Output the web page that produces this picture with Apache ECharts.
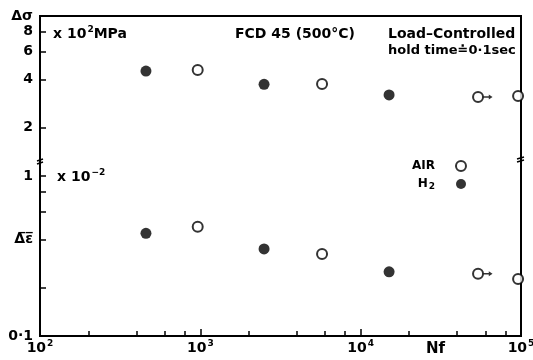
<!DOCTYPE html>
<html>
<head>
<meta charset="utf-8">
<script src="https://cdn.jsdelivr.net/npm/echarts@6/dist/echarts.min.js"></script>
<style>html,body{margin:0;padding:0;background:#fff}#main{width:533px;height:360px}</style>
</head>
<body>
<div id="main"></div>
<script>
var chart = echarts.init(document.getElementById('main'));

// AIR (open circles) - cycles to failure, stress (x10^2 MPa), strain (x10^-2)
var airN = [963, 5743, 53960, 95900];
var airStress = [4.60, 3.76, 3.12, 3.16];
var airStrain = [0.482, 0.326, 0.245, 0.227];
var airRunout = [false, false, true, false];
// H2 (filled circles)
var h2N = [458, 2497, 15040];
var h2Stress = [4.53, 3.74, 3.21];
var h2Strain = [0.438, 0.350, 0.252];

var xMajorTicks = [100, 1000, 10000, 100000];
var xMajorExp = ['2', '3', '4', '5'];
var xMinorTicks = [200, 400, 600, 800, 2000, 4000, 6000, 8000, 20000, 40000, 60000, 80000];
var yTicks = [0.2, 0.4, 0.6, 0.8, 1, 2, 4, 6, 8];
var yLabelValues = [0.1, 0.4, 1, 2, 4, 6, 8, 10];
var yLabelNames = ['0·1', 'Δ̅ε̅', '1', '2', '4', '6', '8', 'Δσ'];

var FONT = 'DejaVu Sans';

function pairs(xs, ys) {
    var out = [];
    for (var i = 0; i < xs.length; i++) out.push([xs[i], ys[i]]);
    return out;
}
function runoutPairs(ys) {
    var out = [];
    for (var i = 0; i < airN.length; i++) {
        if (airRunout[i]) out.push([airN[i], ys[i]]);
    }
    return out;
}
function nameFor(vals, names, v) {
    for (var i = 0; i < vals.length; i++) {
        if (Math.abs(vals[i] - v) / vals[i] < 0.01) return names[i];
    }
    return '';
}

var openStyle = { color: '#fff', borderColor: '#000', borderWidth: 2 };
var fillStyle = { color: '#000', borderColor: '#000', borderWidth: 0 };
var arrowPath = 'path://M0,3.3 L7,3.3 L7,1.5 L12,4 L7,6.5 L7,4.7 L0,4.7 Z';

var supRich = {
    b: { fontFamily: FONT, fontWeight: 'bold', fontSize: 14, color: '#000' },
    s: { fontFamily: FONT, fontWeight: 'bold', fontSize: 9, color: '#000', padding: [0, 0, 9, 1] }
};
function txt(x, y, text, size) {
    return { type: 'text', left: x, top: y, style: { text: text, fontFamily: FONT, fontWeight: 'bold', fontSize: size || 14, fill: '#000', rich: supRich } };
}

option = {
    backgroundColor: '#fff',
    animation: false,
    grid: {
        left: 40, right: 12, top: 16, bottom: 24,
        outerBoundsMode: 'none',
        show: true, borderColor: '#000', borderWidth: 2
    },
    legend: {
        data: ['AIR', 'H₂'],
        orient: 'vertical',
        left: 407, top: 155,
        align: 'right',
        itemWidth: 10, itemHeight: 10, itemGap: 6,
        selectedMode: false,
        formatter: function (name) { return name === 'H₂' ? '{b|H}{sub|2}' : '{b|' + name + '}'; },
        textStyle: {
            fontFamily: FONT, fontWeight: 'bold', fontSize: 12, color: '#000',
            width: 40, align: 'right', padding: [0, 16, 0, 0],
            rich: {
                b: { fontFamily: FONT, fontWeight: 'bold', fontSize: 12, color: '#000' },
                sub: { fontFamily: FONT, fontWeight: 'bold', fontSize: 9, color: '#000', padding: [6, 0, 0, 1] }
            }
        }
    },
    xAxis: [{
        type: 'log', logBase: 10, min: 100, max: 100000,
        axisLine: { show: true, lineStyle: { color: '#000', width: 2 } },
        axisTick: { show: true, inside: true, length: 7, lineStyle: { color: '#000', width: 1.5 }, customValues: xMajorTicks },
        axisLabel: {
            customValues: xMajorTicks,
            formatter: function (v) { return '{b|10}{s|' + nameFor(xMajorTicks, xMajorExp, v) + '}'; },
            rich: supRich, margin: 3
        },
        splitLine: { show: false }
    }, {
        type: 'log', logBase: 10, min: 100, max: 100000, position: 'bottom',
        axisLine: { show: false },
        axisTick: { show: true, inside: true, length: 5, lineStyle: { color: '#000', width: 1.5 }, customValues: xMinorTicks },
        axisLabel: { show: false },
        splitLine: { show: false }
    }],
    yAxis: {
        type: 'log', logBase: 10, min: 0.1, max: 10,
        axisLine: { show: true, lineStyle: { color: '#000', width: 2 } },
        axisTick: { show: true, inside: true, length: 6, lineStyle: { color: '#000', width: 1.5 }, customValues: yTicks },
        axisLabel: {
            customValues: yLabelValues,
            formatter: function (v) { return nameFor(yLabelValues, yLabelNames, v); },
            fontFamily: FONT, fontWeight: 'bold', fontSize: 14, color: '#000', margin: 7
        },
        splitLine: { show: false }
    },
    graphic: [
        txt(53, 25, '{b|x 10}{s|2}{b|MPa}'),
        txt(235, 27, 'FCD 45 (500°C)'),
        txt(388, 27, 'Load–Controlled'),
        txt(388, 44, 'hold time≐0·1sec', 13),
        txt(57, 168, '{b|x 10}{s|−2}'),
        txt(426, 342, 'Nf', 15),
        // axis break marks
        { type: 'line', shape: { x1: 37, y1: 161, x2: 43, y2: 159 }, style: { stroke: '#000', lineWidth: 1.5 } },
        { type: 'line', shape: { x1: 37, y1: 164, x2: 43, y2: 162 }, style: { stroke: '#000', lineWidth: 1.5 } },
        { type: 'line', shape: { x1: 517, y1: 159, x2: 524, y2: 157 }, style: { stroke: '#000', lineWidth: 1.5 } },
        { type: 'line', shape: { x1: 517, y1: 162, x2: 524, y2: 160 }, style: { stroke: '#000', lineWidth: 1.5 } }
    ],
    series: [
        { name: 'AIR', type: 'scatter', data: pairs(airN, airStress), symbol: 'circle', symbolSize: 10, itemStyle: openStyle, z: 3 },
        { name: 'AIR', type: 'scatter', data: pairs(airN, airStrain), symbol: 'circle', symbolSize: 10, itemStyle: openStyle, z: 3 },
        { name: 'H₂', type: 'scatter', data: pairs(h2N, h2Stress), symbol: 'circle', symbolSize: 11, itemStyle: fillStyle, z: 3 },
        { name: 'H₂', type: 'scatter', data: pairs(h2N, h2Strain), symbol: 'circle', symbolSize: 11, itemStyle: fillStyle, z: 3 },
        { name: 'runout', type: 'scatter', data: runoutPairs(airStress), symbol: arrowPath, symbolSize: [9, 5], symbolOffset: [10, 0], itemStyle: { color: '#000' }, silent: true, z: 2 },
        { name: 'runout', type: 'scatter', data: runoutPairs(airStrain), symbol: arrowPath, symbolSize: [9, 5], symbolOffset: [10, 0], itemStyle: { color: '#000' }, silent: true, z: 2 }
    ]
};
chart.setOption(option);
</script>
</body>
</html>
